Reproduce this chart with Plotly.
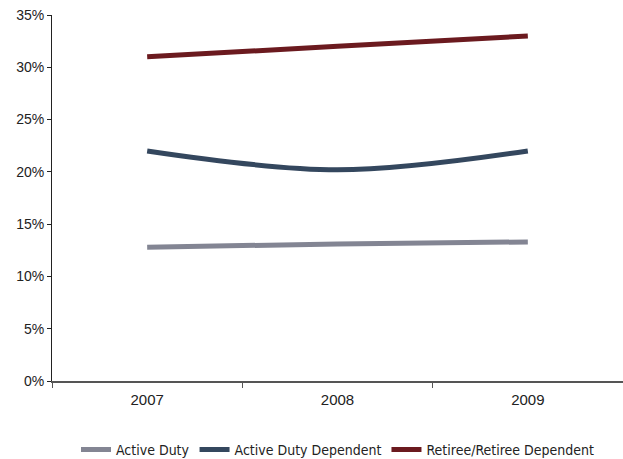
import plotly.graph_objects as go

years = ["2007", "2008", "2009"]
active_duty = [12.8, 13.1, 13.3]
active_duty_dep = [22.0, 20.2, 22.0]
retiree = [31.0, 32.0, 33.0]
series_names = ["Active Duty", "Active Duty Dependent", "Retiree/Retiree Dependent"]
colors = ["#838593", "#34475E", "#6B1A1F"]

fig = go.Figure()
for name, vals, c in zip(series_names, [active_duty, active_duty_dep, retiree], colors):
    fig.add_trace(go.Scatter(
        x=years, y=vals, name=name, mode="lines",
        line=dict(color=c, width=5, shape="spline", smoothing=1.0),
    ))

fig.update_layout(
    width=623, height=459,
    margin=dict(l=52, r=0, t=15, b=78, autoexpand=False),
    paper_bgcolor="white", plot_bgcolor="white",
    font=dict(family="Liberation Sans, Arial, sans-serif", size=14, color="#222222"),
    legend=dict(
        orientation="h", x=0.5, xanchor="center", y=-0.188, yanchor="middle",
        font=dict(family="DejaVu Sans Condensed, sans-serif", size=14, color="#222222"),
        itemwidth=30, tracegroupgap=0,
    ),
    showlegend=True,
)
fig.update_xaxes(
    type="category", range=[-0.5, 2.5], tickson="boundaries",
    showline=True, linecolor="#555555", linewidth=1.5,
    ticks="outside", ticklen=5, tickcolor="#555555",
    tickfont=dict(size=15), ticklabelstandoff=4,
    showgrid=False, zeroline=False, automargin=False,
)
fig.update_yaxes(
    range=[0, 35], dtick=5, ticksuffix="%",
    showline=True, linecolor="#222222", linewidth=1,
    ticks="outside", ticklen=4, tickcolor="#222222",
    tickfont=dict(size=14),
    showgrid=False, zeroline=False, automargin=False,
)

fig.write_html("out.html", config={"displayModeBar": False},
               post_script="document.body.style.margin='0';")
